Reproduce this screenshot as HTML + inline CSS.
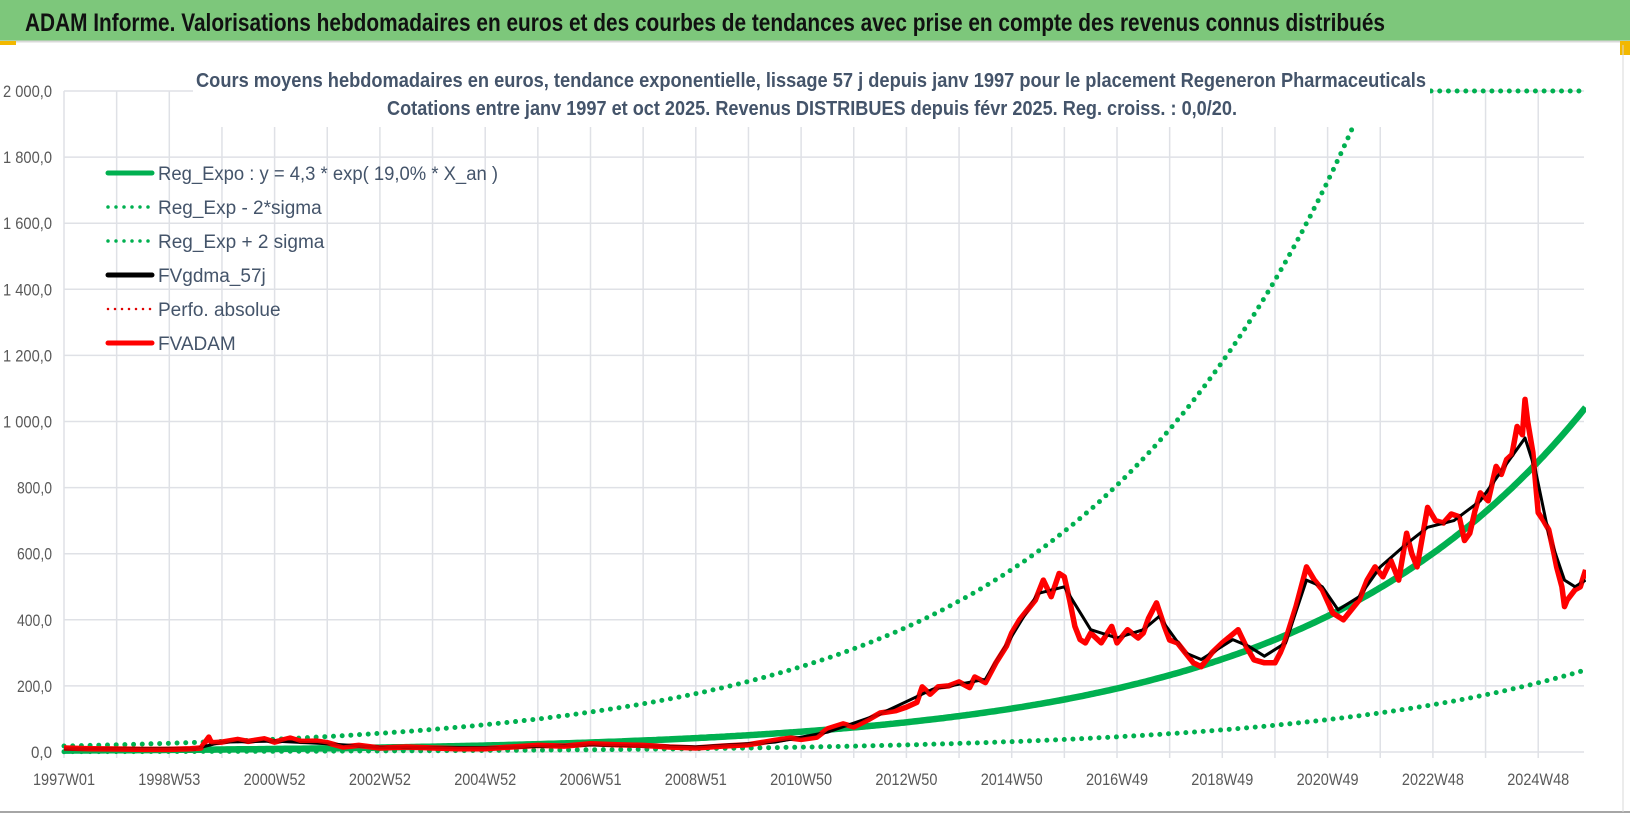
<!DOCTYPE html>
<html><head><meta charset="utf-8">
<style>
html,body{margin:0;padding:0;background:#fff;}
body{width:1630px;height:815px;overflow:hidden;position:relative;font-family:"Liberation Sans",sans-serif;}
svg text{font-family:"Liberation Sans",sans-serif;}
</style></head>
<body>
<svg id="chart" width="1630" height="815" viewBox="0 0 1630 815" xmlns="http://www.w3.org/2000/svg">
  <rect x="0" y="0" width="1630" height="815" fill="#ffffff"/>
  <rect x="0" y="0" width="1630" height="41" fill="#7dc77b"/>
  <line x1="0" y1="41.5" x2="1630" y2="41.5" stroke="#d9d9d9" stroke-width="2"/>
  <rect x="0" y="41" width="16" height="4" fill="#f2b800"/>
  <rect x="1620" y="41" width="10" height="14" fill="#f2b800"/>
  <text x="25" y="31" font-size="25" font-weight="bold" fill="#111" textLength="1360" lengthAdjust="spacingAndGlyphs">ADAM Informe. Valorisations hebdomadaires en euros et des courbes de tendances avec prise en compte des revenus connus distribués</text>
  <line x1="0" y1="812" x2="1630" y2="812" stroke="#a6a6a6" stroke-width="2"/>
  <line x1="1623" y1="45" x2="1623" y2="812" stroke="#d9d9d9" stroke-width="1"/>
  <g id="grid"></g>
  <g id="yaxis"></g>
  <g id="xaxis"></g>
  <defs><clipPath id="plotclip"><rect x="58" y="86" width="1528" height="670"/></clipPath></defs>
  <g id="series" clip-path="url(#plotclip)"></g>
  <rect x="193" y="58" width="1237" height="69" fill="#ffffff"/>
  <text x="811" y="87" font-size="20" font-weight="bold" fill="#44546a" text-anchor="middle" textLength="1230" lengthAdjust="spacingAndGlyphs">Cours moyens hebdomadaires en euros, tendance exponentielle, lissage 57 j depuis janv 1997 pour le placement Regeneron Pharmaceuticals</text>
  <text x="812" y="115" font-size="20" font-weight="bold" fill="#44546a" text-anchor="middle" textLength="850" lengthAdjust="spacingAndGlyphs">Cotations entre janv 1997 et oct 2025. Revenus DISTRIBUES depuis févr 2025. Reg. croiss. : 0,0/20.</text>
  <g id="legend"></g>
</svg>
<script>
const yTicks = [0,200,400,600,800,1000,1200,1400,1600,1800,2000];
const yTickLabels = ["0,0","200,0","400,0","600,0","800,0","1 000,0","1 200,0","1 400,0","1 600,0","1 800,0","2 000,0"];
const xTickLabels = ["1997W01","1998W53","2000W52","2002W52","2004W52","2006W51","2008W51","2010W50","2012W50","2014W50","2016W49","2018W49","2020W49","2022W48","2024W48"];
const regA = [4.3];
const regG = [0.19];
const sigmaFactor = [4.2];
const redT = [1997.0,1997.5,1998,1998.5,1999,1999.4,1999.6,1999.75,1999.8,2000,2000.3,2000.5,2000.8,2001,2001.3,2001.5,2001.8,2002,2002.3,2002.6,2003,2003.5,2004,2004.5,2005,2005.5,2006,2006.5,2007,2007.5,2008,2008.5,2009,2009.5,2010,2010.5,2010.8,2011,2011.3,2011.5,2011.8,2012,2012.3,2012.5,2012.8,2013,2013.2,2013.3,2013.45,2013.6,2013.8,2014,2014.2,2014.3,2014.5,2014.7,2014.9,2015,2015.15,2015.3,2015.45,2015.6,2015.75,2015.9,2016,2016.1,2016.2,2016.3,2016.4,2016.5,2016.7,2016.9,2017,2017.2,2017.4,2017.5,2017.6,2017.75,2017.9,2018,2018.15,2018.3,2018.45,2018.6,2018.8,2019,2019.15,2019.3,2019.45,2019.6,2019.8,2020,2020.1,2020.2,2020.4,2020.6,2020.75,2020.9,2021.1,2021.3,2021.45,2021.6,2021.75,2021.9,2022.05,2022.2,2022.35,2022.5,2022.6,2022.7,2022.9,2023.05,2023.2,2023.35,2023.5,2023.6,2023.7,2023.8,2023.9,2024.05,2024.2,2024.3,2024.4,2024.5,2024.6,2024.7,2024.75,2024.8,2024.9,2025.0,2025.1,2025.2,2025.3,2025.35,2025.45,2025.5,2025.55,2025.7,2025.8,2025.9];
const redV = [12,10,9,8,8,10,12,45,28,30,38,32,40,30,42,32,33,28,15,20,12,15,12,10,10,15,20,18,25,22,20,15,12,18,22,35,42,38,45,70,85,76,100,118,125,136,150,197,175,197,200,212,195,227,210,270,320,360,400,430,460,520,470,540,530,460,380,340,330,360,330,380,330,370,345,360,405,451,380,339,330,300,270,258,300,330,350,370,320,279,270,270,300,339,440,560,520,491,420,400,430,460,520,560,530,580,520,662,600,560,740,700,693,720,712,640,662,730,784,760,864,840,885,900,985,960,1067,1000,906,724,700,673,600,560,500,440,460,491,500,551];
const blackT = [1997,1999.5,2000,2001,2002,2003,2005,2007,2009,2010.5,2011.5,2012.5,2013.5,2014.5,2015,2015.5,2016,2016.5,2017,2017.5,2017.8,2018.3,2018.6,2019.2,2019.5,2019.8,2020.2,2020.6,2020.9,2021.2,2021.6,2022,2022.5,2022.9,2023.4,2023.9,2024.3,2024.75,2024.95,2025.2,2025.5,2025.7,2025.9];
const blackV = [10,10,30,33,25,14,12,22,15,30,60,115,190,220,350,480,500,370,345,370,410,300,280,340,320,290,330,520,500,430,470,560,630,680,700,760,850,950,850,660,520,500,520];

const NS = "http://www.w3.org/2000/svg";
const X0 = 64, XPX = 52.65, T0 = 1997.0, TEND = 2025.9;
const Y0 = 752, YPX = 0.3305;
function xs(t){ return X0 + (t - T0) * XPX; }
function ys(v){ return Y0 - v * YPX; }
function mk(tag, attrs, parent){ const e = document.createElementNS(NS, tag); for (const k in attrs) e.setAttribute(k, attrs[k]); parent.appendChild(e); return e; }

const grid = document.getElementById('grid');
const yaxis = document.getElementById('yaxis');
const xaxis = document.getElementById('xaxis');
const series = document.getElementById('series');
const legend = document.getElementById('legend');

yTicks.forEach((v, i) => {
  const l = mk('line', {x1: X0, x2: 1584, y1: ys(v), y2: ys(v), stroke: '#dfe1e6', 'stroke-width': 1.5}, grid);
  
  
  const lab = yTickLabels[i];
  const t = mk('text', {x: 52, y: ys(v) + 6, 'font-size': 17, fill: '#595959', 'text-anchor': 'end', textLength: lab.length * 7, lengthAdjust: 'spacingAndGlyphs'}, yaxis);
  t.textContent = lab;
  
  
});
for (let k = 0; k <= 29; k++) {
  const t = T0 + k * (1470 / 27.92) / XPX;
  const x = xs(t);
  if (x > 1584) break;
  const l = mk('line', {x1: x, x2: x, y1: ys(2000), y2: Y0 + 6, stroke: '#dfe1e6', 'stroke-width': 1.5}, grid);
  
  
}
xTickLabels.forEach((lab, i) => {
  const x = xs(T0 + i * 2 * (1470 / 27.92) / XPX);
  const t = mk('text', {x: x, y: 785, 'font-size': 17, fill: '#595959', 'text-anchor': 'middle', textLength: 62, lengthAdjust: 'spacingAndGlyphs'}, xaxis);
  t.textContent = lab;
  
  
});

function regPts(f){
  const p = [];
  for (let t = T0; t <= TEND + 0.001; t += 0.05) {
    let v = regA[0] * Math.exp(regG[0] * (t - T0)) * f;
    if (v > 2000) v = 2000;
    p.push(xs(t).toFixed(1) + ',' + ys(v).toFixed(1));
  }
  return p.join(' ');
}
const lo = mk('polyline', {points: regPts(1 / sigmaFactor[0]), fill: 'none', stroke: '#00b050', 'stroke-width': 5, 'stroke-dasharray': '0 8.7', 'stroke-linecap': 'round'}, series);


const hi = mk('polyline', {points: regPts(sigmaFactor[0]), fill: 'none', stroke: '#00b050', 'stroke-width': 5, 'stroke-dasharray': '0 8.7', 'stroke-linecap': 'round'}, series);


const reg = mk('polyline', {points: regPts(1), fill: 'none', stroke: '#00b050', 'stroke-width': 6.5}, series);



function pts(T, V){ return T.map((t, i) => xs(t).toFixed(1) + ',' + ys(V[i]).toFixed(1)).join(' '); }
const red = mk('polyline', {points: pts(redT, redV), fill: 'none', stroke: '#ff0000', 'stroke-width': 5.5, 'stroke-linejoin': 'round'}, series);


const blk = mk('polyline', {points: pts(blackT, blackV), fill: 'none', stroke: '#000000', 'stroke-width': 3, 'stroke-linejoin': 'round'}, series);


const redTop = mk('polyline', {points: pts(redT, redV), fill: 'none', stroke: '#ff0000', 'stroke-width': 3.5, 'stroke-linejoin': 'round', opacity: 0.85}, series);



const legItems = [
  ['Reg_Expo : y = 4,3 * exp( 19,0% *  X_an )', '#00b050', 'solid', 340],
  ['Reg_Exp - 2*sigma', '#00b050', 'dot', 0],
  ['Reg_Exp + 2 sigma', '#00b050', 'dot', 0],
  ['FVgdma_57j', '#000000', 'solid', 0],
  ['Perfo. absolue', '#e00000', 'dotsmall', 0],
  ['FVADAM', '#ff0000', 'solid', 0]
];
legItems.forEach((it, i) => {
  const y = 173 + i * 34;
  const g = mk('g', {}, legend);
  
  
  const attrs = {x1: 108, x2: 152, y1: y, y2: y, stroke: it[1]};
  if (it[2] === 'solid') { attrs['stroke-width'] = 5; attrs['stroke-linecap'] = 'round'; }
  else if (it[2] === 'dot') { attrs['stroke-width'] = 3.5; attrs['stroke-dasharray'] = '0 8'; attrs['stroke-linecap'] = 'round'; }
  else { attrs['stroke-width'] = 2.5; attrs['stroke-dasharray'] = '0 7'; attrs['stroke-linecap'] = 'round'; }
  const ln = mk('line', attrs, g);
  
  
  const ta = {x: 158, y: y + 7, 'font-size': 19, fill: '#44546a'};
  if (it[3]) { ta.textLength = it[3]; ta.lengthAdjust = 'spacingAndGlyphs'; }
  const t = mk('text', ta, g);
  t.textContent = it[0];
  
  
});
</script>
</body></html>
